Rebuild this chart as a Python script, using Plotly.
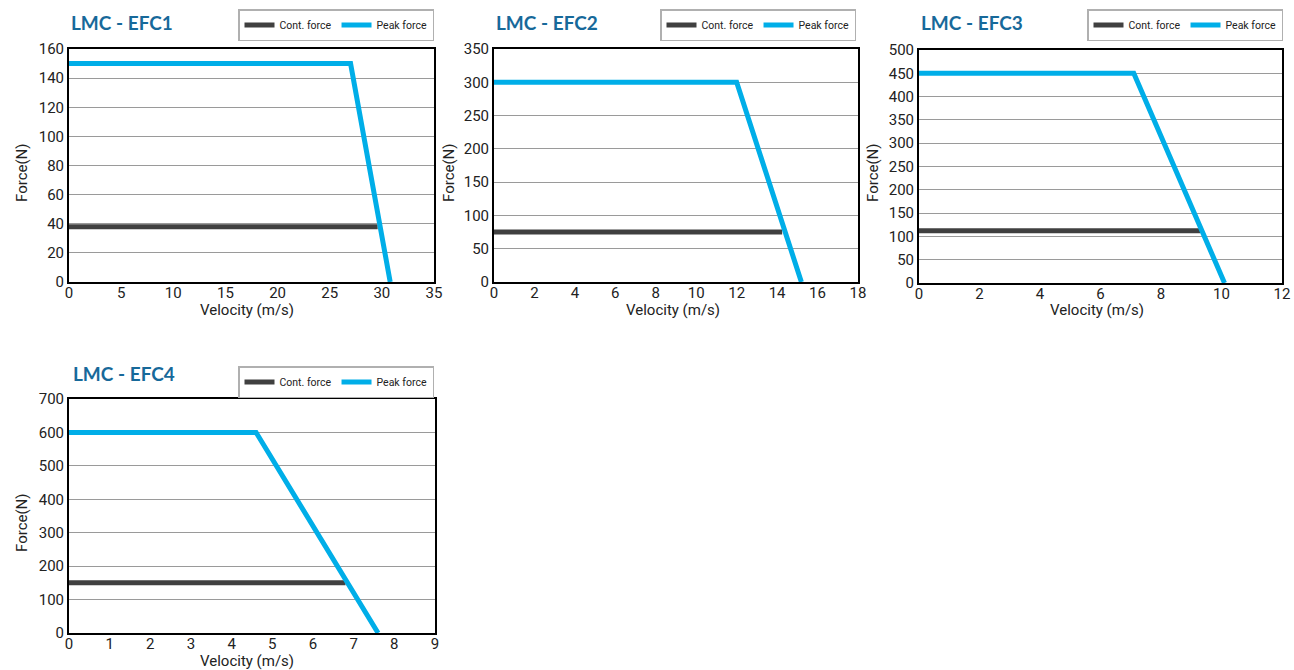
import plotly.graph_objects as go

W, H = 1294, 670

titles = ["LMC - EFC1", "LMC - EFC2", "LMC - EFC3", "LMC - EFC4"]
# peak force curves (velocity m/s, force N)
peak_x = [[0, 27.0, 30.8], [0, 12.0, 15.2], [0, 7.1, 10.1], [0, 4.6, 7.6]]
peak_y = [[150, 150, 0], [300, 300, 0], [450, 450, 0], [600, 600, 0]]
# continuous force
cont_x = [[0, 29.6], [0, 14.25], [0, 9.3], [0, 6.8]]
cont_y = [[38, 38], [75, 75], [112, 112], [150, 150]]
x_ranges = [[0, 35], [0, 18], [0, 12], [0, 9]]
y_ranges = [[0, 160], [0, 350], [0, 500], [0, 700]]
x_dticks = [5, 2, 2, 1]
y_dticks = [20, 50, 50, 100]
x_title = "Velocity (m/s)"
y_title = "Force(N)"

# plot-area boxes in pixels: (left, right, top, bottom)
boxes = [(69, 434, 49, 282), (494, 858, 49, 282), (919, 1282, 50, 283), (69, 435, 399, 633)]
legend_pos = [(434, 9), (856, 9), (1283, 9), (434, 366)]
title_pos = [(69, 23), (494, 23), (919, 23), (71, 373)]
xtitle_pos = [(247, 310), (673, 310), (1097, 310), (247, 661)]
ytitle_pos = [(22, 173), (449, 173), (873, 173), (22, 523)]

PEAK = "#00aee8"
CONT = "#404040"
TITLE_C = "#17699a"
FONT = "Roboto"

fig = go.Figure()
layout = dict(
    width=W, height=H,
    margin=dict(l=0, r=0, t=0, b=0, autoexpand=False),
    paper_bgcolor="white", plot_bgcolor="white",
    showlegend=True,
    annotations=[],
)

for i in range(4):
    n = "" if i == 0 else str(i + 1)
    xa, ya = "x" + n, "y" + n
    leg = "legend" if i == 0 else "legend" + str(i + 1)
    fig.add_trace(go.Scatter(x=cont_x[i], y=cont_y[i], mode="lines", name="Cont. force",
                             line=dict(color=CONT, width=5), xaxis=xa, yaxis=ya, legend=leg))
    fig.add_trace(go.Scatter(x=peak_x[i], y=peak_y[i], mode="lines", name="Peak force",
                             line=dict(color=PEAK, width=5), xaxis=xa, yaxis=ya, legend=leg))
    l, r, t, b = boxes[i]
    layout["xaxis" + n] = dict(
        domain=[l / W, r / W], anchor=ya, range=x_ranges[i], dtick=x_dticks[i],
        showgrid=False, zeroline=False, showline=True, mirror=True,
        linecolor="black", linewidth=2, ticks="", automargin=False,
        ticklabelstandoff=-4,
        tickfont=dict(family=FONT, size=15, color="#222"),
        fixedrange=True,
    )
    layout["yaxis" + n] = dict(
        domain=[1 - b / H, 1 - t / H], anchor=xa, range=y_ranges[i], dtick=y_dticks[i],
        showgrid=True, gridcolor="#9a9a9a", gridwidth=1, zeroline=False,
        showline=True, mirror=True, linecolor="black", linewidth=2, ticks="",
        automargin=False,
        tickfont=dict(family=FONT, size=15, color="#222"),
        fixedrange=True,
    )
    lx, ly = legend_pos[i]
    layout[leg] = dict(
        x=lx / W, y=1 - ly / H, xanchor="right", yanchor="top",
        orientation="h", bordercolor="#b0b0b0", borderwidth=1.5,
        bgcolor="white", font=dict(family=FONT, size=10.5, color="#222"),
        itemwidth=30, tracegroupgap=0,
    )
    tx, ty = title_pos[i]
    layout["annotations"].append(dict(
        text="<b>" + titles[i] + "</b>", x=tx / W, y=1 - ty / H, xref="paper", yref="paper",
        xanchor="left", yanchor="middle", showarrow=False,
        font=dict(family="Lato", size=19, color=TITLE_C),
    ))
    px, py = xtitle_pos[i]
    layout["annotations"].append(dict(
        text=x_title, x=px / W, y=1 - py / H, xref="paper", yref="paper",
        xanchor="center", yanchor="middle", showarrow=False,
        font=dict(family=FONT, size=15, color="#222"),
    ))
    px, py = ytitle_pos[i]
    layout["annotations"].append(dict(
        text=y_title, x=px / W, y=1 - py / H, xref="paper", yref="paper",
        xanchor="center", yanchor="middle", showarrow=False, textangle=-90,
        font=dict(family=FONT, size=15, color="#222"),
    ))

fig.update_layout(**layout)
fig.write_html("out.html", config={"displayModeBar": False},
               post_script="document.body.style.margin='0';document.body.style.overflow='hidden';")
